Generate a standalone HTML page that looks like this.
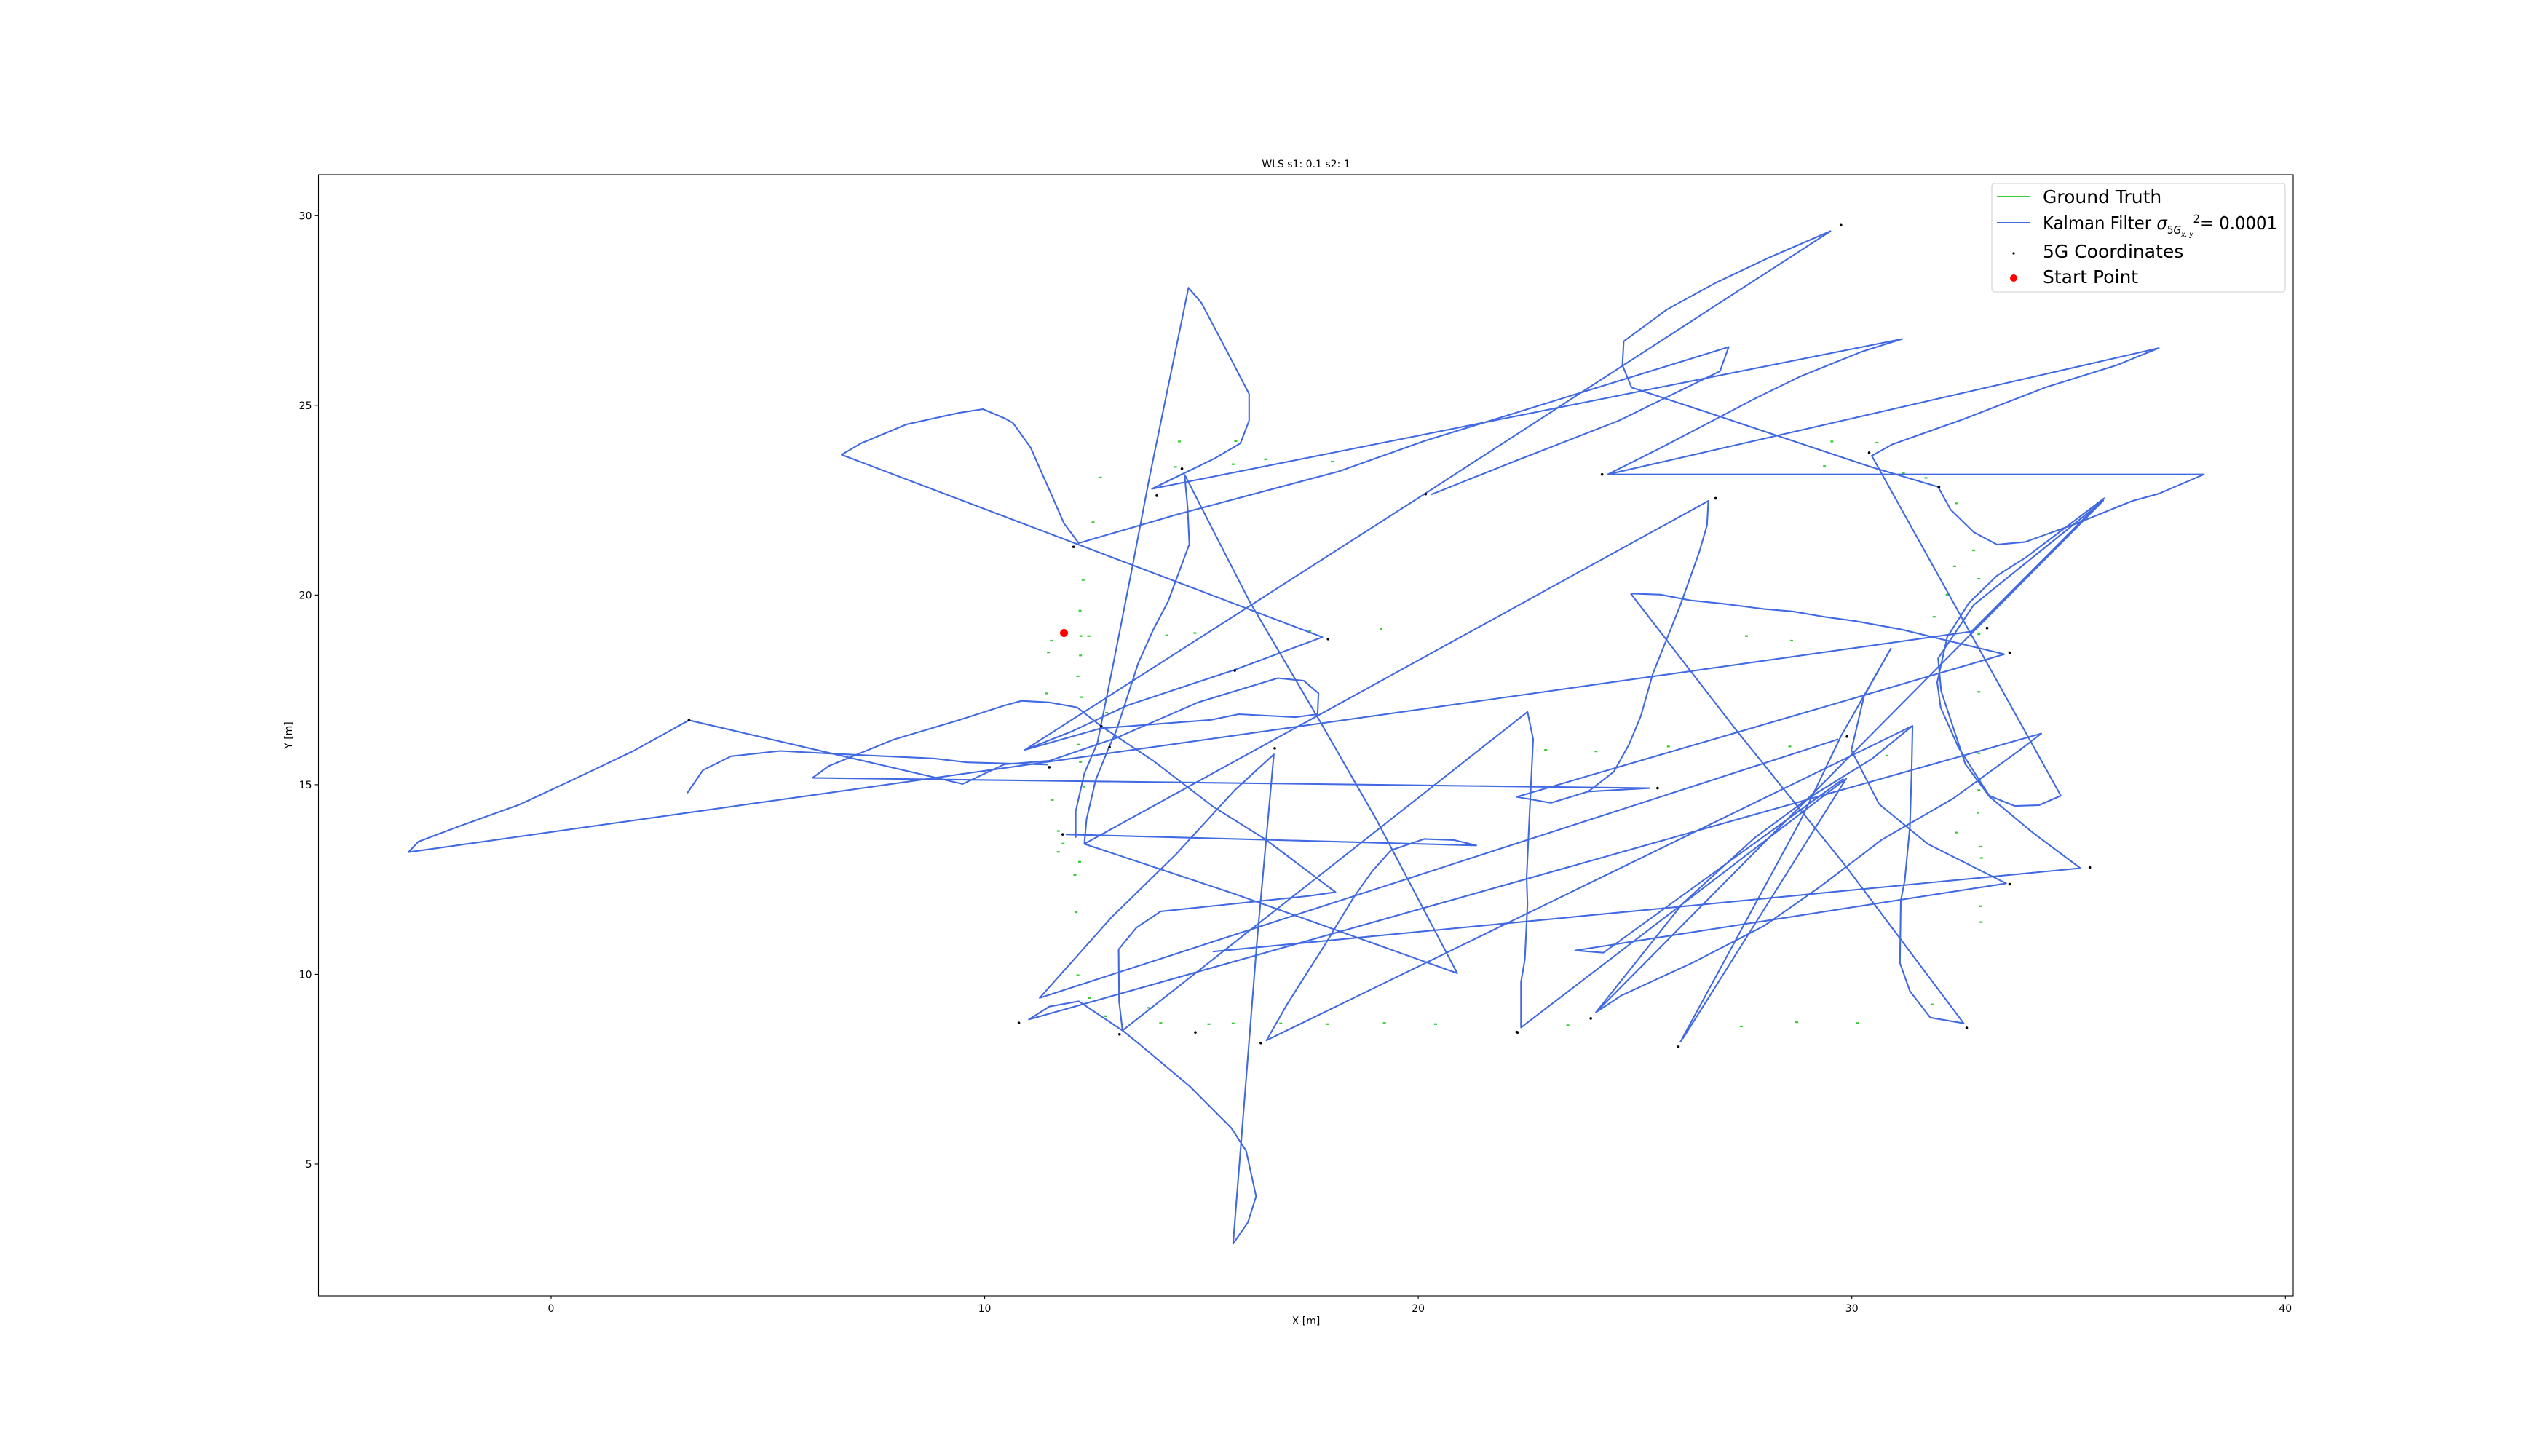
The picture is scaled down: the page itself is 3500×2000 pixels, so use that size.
<!DOCTYPE html>
<html>
<head>
<meta charset="utf-8">
<style>
html,body{margin:0;padding:0;background:#fff;}
svg{display:block;}
text{font-family:"DejaVu Sans","Liberation Sans",sans-serif;}
</style>
</head>
<body>
<svg id="chart" width="3500" height="2000" viewBox="0 0 3500 2000" xmlns="http://www.w3.org/2000/svg">
  <rect x="0" y="0" width="3500" height="2000" fill="#fff"/>
  <text x="1794" y="230" font-size="14" text-anchor="middle">WLS s1: 0.1 s2: 1</text>
  <g id="plot"></g>
  <g id="xticks"></g>
  <g id="yticks"></g>
  <rect x="437.5" y="240" width="2712.5" height="1540" fill="none" stroke="#000" stroke-width="1.1"/>
  <text x="1794" y="1819" font-size="14" text-anchor="middle">X [m]</text>
  <text x="401" y="1010" font-size="14" text-anchor="middle" transform="rotate(-90 401 1010)">Y [m]</text>
  <g>
    <rect x="2736" y="252" width="403" height="149" rx="4" fill="#fff" fill-opacity="0.8" stroke="#d0d0d0" stroke-width="1.1"/>
    <line x1="2743" y1="270" x2="2789" y2="270" stroke="#32cd32" stroke-width="2.1"/>
    <text x="2806" y="279" font-size="25">Ground Truth</text>
    <line x1="2743" y1="306" x2="2789" y2="306" stroke="#4169e1" stroke-width="2.1"/>
    <text x="2806" y="315" font-size="25" textLength="322" lengthAdjust="spacingAndGlyphs">Kalman Filter <tspan font-style="italic">σ</tspan><tspan font-size="15" dy="6">5</tspan><tspan font-size="15" font-style="italic">G</tspan><tspan font-size="10" font-style="italic" dy="4">x, y</tspan><tspan font-size="16" dy="-19">2</tspan><tspan dy="9">= 0.0001</tspan></text>
    <circle cx="2766" cy="348" r="1.6" fill="#000"/>
    <text x="2806" y="354" font-size="25">5G Coordinates</text>
    <circle cx="2766" cy="382" r="5" fill="#ff0000"/>
    <text x="2806" y="389" font-size="25">Start Point</text>
  </g>
</svg>
<script>
// ---- data ----
const xTicks = [0, 10, 20, 30, 40];
const yTicks = [5, 10, 15, 20, 25, 30];
const startPoint = [11.83, 19.0];

const segA = [[-3.29,13.22],[-3.06,13.5],[-2.2,13.87],[-0.72,14.48],[0.78,15.28],[1.9,15.89],[3.18,16.7],[9.49,15.02],[10.46,15.54],[11.49,15.63],[13.03,16.23],[14.92,17.17],[16.76,17.81],[17.36,17.74],[17.7,17.41],[17.68,16.86],[17.17,16.78],[15.86,16.86],[15.22,16.71],[13.29,16.54],[12.69,16.49],[10.93,15.92],[20.14,22.66],[29.52,29.6]];
const segB = [[3.14,14.78],[3.5,15.38],[4.15,15.75],[5.28,15.89],[6.96,15.79],[8.84,15.69],[9.59,15.59],[11.46,15.53]];
const segC = [[6.03,15.18],[6.4,15.49],[7.9,16.19],[9.4,16.7],[10.46,17.09],[10.85,17.21],[11.49,17.17],[12.13,17.04],[12.69,16.54],[13.89,15.63],[15.26,14.43],[16.46,13.57],[18.09,12.17],[17.49,12.07],[14.06,11.66],[13.5,11.23],[13.09,10.66],[13.1,9.29],[13.18,8.52],[13.54,8.19],[14.74,7.04],[15.69,5.95],[16.03,5.35],[16.26,4.15],[16.07,3.46],[15.73,2.9],[16.29,11.0],[16.67,15.8],[15.77,14.86],[14.4,13.15],[12.94,11.52],[11.27,9.38],[29.69,16.2]];
const segD = [[6.03,15.18],[25.33,14.91],[23.92,14.82],[23.06,14.52],[22.27,14.68],[33.52,18.44]];
const segE = [[12.3,13.44],[26.69,22.48],[26.66,21.84],[26.48,21.13],[26.04,19.72],[25.41,17.92],[25.13,16.8],[24.86,16.06],[24.51,15.34],[23.92,14.82]];
const segF = [[10.93,15.92],[12.0,16.4],[13.29,17.09],[15.77,18.03],[17.79,18.89],[6.7,23.7],[7.15,24.0],[8.2,24.5],[9.4,24.8],[9.96,24.9],[10.46,24.66],[10.65,24.54],[11.06,23.89],[11.27,23.34],[11.57,22.57],[11.83,21.89],[12.17,21.37],[14.49,22.14],[18.17,23.26],[20.14,24.06],[27.16,26.54],[26.96,25.9],[24.63,24.6],[22.21,23.52],[20.3,22.65]];
const segG = [[24.37,23.18],[25.63,23.9],[27.75,25.17],[28.81,25.76],[30.22,26.41],[31.16,26.75],[13.86,22.8],[14.27,23.03],[15.3,23.6],[15.9,24.0],[16.1,24.6],[16.1,25.3],[15.6,26.4],[15.0,27.7],[14.7,28.1],[14.25,25.6],[13.8,23.1],[13.4,20.7],[12.97,18.2],[12.6,16.1],[12.3,15.3],[12.1,14.3],[12.1,13.6]];
const segH = [[14.61,23.18],[14.68,22.32],[14.72,21.34],[14.23,19.83],[13.89,19.09],[13.54,18.2],[13.03,16.4],[12.86,15.97],[12.56,15.12],[12.35,14.09],[12.3,13.44]];
const segI = [[14.61,23.18],[16.11,19.83],[17.74,16.66],[19.03,14.09],[20.9,10.03],[20.31,10.27],[15.77,12.12],[12.3,13.44]];
const segJ = [[11.87,13.69],[21.34,13.4],[20.83,13.54],[20.14,13.57],[19.37,13.27],[18.94,12.72],[18.51,12.03],[17.83,10.75],[17.4,9.98],[16.97,9.2],[16.5,8.26],[31.4,16.55]];
const segK = [[24.9,20.04],[25.59,20.01],[26.28,19.86],[27.04,19.77],[27.98,19.63],[28.63,19.57],[29.4,19.42],[30.1,19.31],[31.16,19.09],[31.87,18.89],[33.52,18.44]];
const segL = [[24.9,20.04],[27.34,16.43],[29.87,12.84],[32.58,8.71],[31.81,8.86],[31.34,9.56],[31.11,10.3],[31.13,11.95],[31.22,12.47],[31.34,13.89],[31.38,15.38],[31.4,16.55],[30.46,15.68],[28.99,14.64],[27.75,13.59],[26.1,11.87],[24.1,9.0],[24.68,9.44],[26.33,10.31],[27.98,11.28],[29.28,12.32],[30.69,13.55],[32.34,14.64],[33.87,15.91],[34.37,16.35],[11.02,8.81],[11.49,9.15],[12.17,9.29],[13.18,8.52],[22.52,16.92],[22.65,16.2],[22.59,14.77],[22.54,13.57],[22.5,12.55],[22.52,11.86],[22.46,10.4],[22.37,9.8],[22.37,8.6],[29.87,15.16],[26.1,8.3]];
const segM = [[26.04,8.21],[27.39,11.05],[28.81,14.04],[29.75,16.28],[30.9,18.59],[30.28,17.33],[29.99,15.91],[30.63,14.49],[31.75,13.44],[33.56,12.4],[23.62,10.63],[24.27,10.57],[29.81,15.16]];
const segN = [[-3.29,13.22],[32.76,19.04],[35.82,22.55],[34.0,20.98],[33.35,20.51],[32.7,19.79],[32.2,18.89],[31.97,17.7],[32.05,17.03],[32.46,15.98],[33.17,14.71],[33.76,14.44],[34.32,14.46],[34.82,14.71],[30.46,23.67],[30.93,23.97],[32.58,24.64],[34.46,25.47],[36.11,26.06],[37.08,26.51],[24.37,23.18],[38.12,23.18],[37.08,22.67],[36.47,22.48],[35.17,21.88],[34.0,21.4],[33.35,21.33],[32.81,21.66],[32.28,22.25],[31.99,22.85],[30.46,23.37],[26.92,24.72],[24.92,25.47],[24.71,26.06],[24.74,26.69],[25.74,27.53],[26.86,28.23],[28.1,28.9],[29.52,29.6]];
const segP = [[15.26,10.6],[35.27,12.8],[34.17,13.74],[33.18,14.68],[32.62,15.54],[32.06,17.47],[31.99,18.33],[32.81,19.74],[34.31,21.12],[35.8,22.49],[24.1,9.0]];
const kalmanSegments = [segA, segB, segC, segD, segE, segF, segG, segH, segI, segJ, segK, segL, segM, segN, segP];

const fiveGX = [3.18,12.05,13.97,14.55,17.92,15.77,12.69,12.88,11.49,11.8,10.79,13.11,14.86,16.37,16.69,20.17,22.29,29.75,24.24,26.86,30.4,32.01,33.12,33.64,29.89,25.52,35.49,33.64,32.65,26.0,23.98,22.27];
const fiveGY = [16.7,21.27,22.62,23.33,18.84,18.01,16.54,15.99,15.46,13.69,8.72,8.42,8.47,8.19,15.96,22.66,8.47,29.75,23.18,22.55,23.75,22.85,19.13,18.48,16.27,14.91,12.82,12.38,8.59,8.09,8.84,8.48];

const gtX = [14.49,15.79,12.67,14.4,15.73,16.48,18.02,12.5,12.27,12.2,12.22,12.4,11.54,11.47,12.21,12.15,11.42,12.24,12.81,12.17,12.21,12.29,11.56,11.7,11.81,11.7,12.19,12.08,12.11,12.15,12.41,12.79,13.78,14.06,15.17,15.73,16.83,17.91,19.22,20.4,14.2,14.85,17.5,19.14,29.54,30.58,29.37,31.19,31.71,32.41,32.81,32.37,32.93,32.2,31.9,32.93,32.93,32.93,32.93,32.91,32.41,32.96,32.99,32.96,32.98,31.85,27.57,28.61,22.94,24.1,25.77,28.57,30.81,23.45,27.45,28.73,30.13];
const gtY = [24.05,24.06,23.1,23.38,23.45,23.58,23.52,21.92,20.4,19.59,18.92,18.92,18.8,18.49,18.41,17.86,17.41,17.31,16.9,16.06,15.6,14.95,14.6,13.78,13.45,13.23,12.97,12.62,11.64,9.98,9.38,8.9,9.12,8.72,8.69,8.71,8.71,8.69,8.72,8.69,18.94,19.0,19.06,19.11,24.05,24.02,23.4,23.21,23.09,22.42,21.18,20.76,20.43,20.01,19.43,18.97,17.45,15.83,14.86,14.26,13.74,13.37,13.07,11.8,11.38,9.21,18.92,18.8,15.92,15.88,16.01,16.01,15.77,8.66,8.63,8.74,8.72];

// ---- axes ----
const xMin = -5.364, xMax = 40.18, yMin = 1.526, yMax = 31.08;
const pL = 437.5, pT = 240, pW = 2712.5, pH = 1540;
function sx(v){ return pL + (v - xMin) / (xMax - xMin) * pW; }
function sy(v){ return pT + pH - (v - yMin) / (yMax - yMin) * pH; }

const NS = "http://www.w3.org/2000/svg";
const plot = document.getElementById('plot');
const xg = document.getElementById('xticks');
const yg = document.getElementById('yticks');

xTicks.forEach(function(t){
  const l = document.createElementNS(NS,'line');
  l.setAttribute('x1', sx(t)); l.setAttribute('x2', sx(t));
  l.setAttribute('y1', pT+pH); l.setAttribute('y2', pT+pH+4.9);
  l.setAttribute('stroke','#000'); l.setAttribute('stroke-width','1.1');
  
  
  xg.appendChild(l);
  const tx = document.createElementNS(NS,'text');
  tx.setAttribute('x', sx(t)); tx.setAttribute('y', pT+pH+22);
  tx.setAttribute('font-size','14'); tx.setAttribute('text-anchor','middle');
  tx.textContent = String(t);
  
  
  xg.appendChild(tx);
});
yTicks.forEach(function(t){
  const l = document.createElementNS(NS,'line');
  l.setAttribute('x1', pL-4.9); l.setAttribute('x2', pL);
  l.setAttribute('y1', sy(t)); l.setAttribute('y2', sy(t));
  l.setAttribute('stroke','#000'); l.setAttribute('stroke-width','1.1');
  
  
  yg.appendChild(l);
  const tx = document.createElementNS(NS,'text');
  tx.setAttribute('x', pL-9); tx.setAttribute('y', sy(t)+5);
  tx.setAttribute('font-size','14'); tx.setAttribute('text-anchor','end');
  tx.textContent = String(t);
  
  
  yg.appendChild(tx);
});

// ground truth (green short marks)
gtX.forEach(function(v, i){
  const r = document.createElementNS(NS,'rect');
  r.setAttribute('x', sx(v)-2); r.setAttribute('y', sy(gtY[i])-1);
  r.setAttribute('width', 4); r.setAttribute('height', 2.2);
  r.setAttribute('fill', '#32cd32');
  
  
  plot.appendChild(r);
});

// kalman polylines
kalmanSegments.forEach(function(seg){
  const p = document.createElementNS(NS,'polyline');
  p.setAttribute('points', seg.map(function(q){ return sx(q[0]).toFixed(1)+','+sy(q[1]).toFixed(1); }).join(' '));
  p.setAttribute('fill','none'); p.setAttribute('stroke','#4169e1');
  p.setAttribute('stroke-width','2.1'); p.setAttribute('stroke-linejoin','round');
  
  
  plot.appendChild(p);
});

// 5G coordinates
fiveGX.forEach(function(v, i){
  const c = document.createElementNS(NS,'circle');
  c.setAttribute('cx', sx(v)); c.setAttribute('cy', sy(fiveGY[i]));
  c.setAttribute('r', 1.8); c.setAttribute('fill', '#000');
  
  
  plot.appendChild(c);
});

// start point
const sp = document.createElementNS(NS,'circle');
sp.setAttribute('cx', sx(startPoint[0])); sp.setAttribute('cy', sy(startPoint[1]));
sp.setAttribute('r', 5.5); sp.setAttribute('fill', '#ff0000');


plot.appendChild(sp);
</script>
</body>
</html>
